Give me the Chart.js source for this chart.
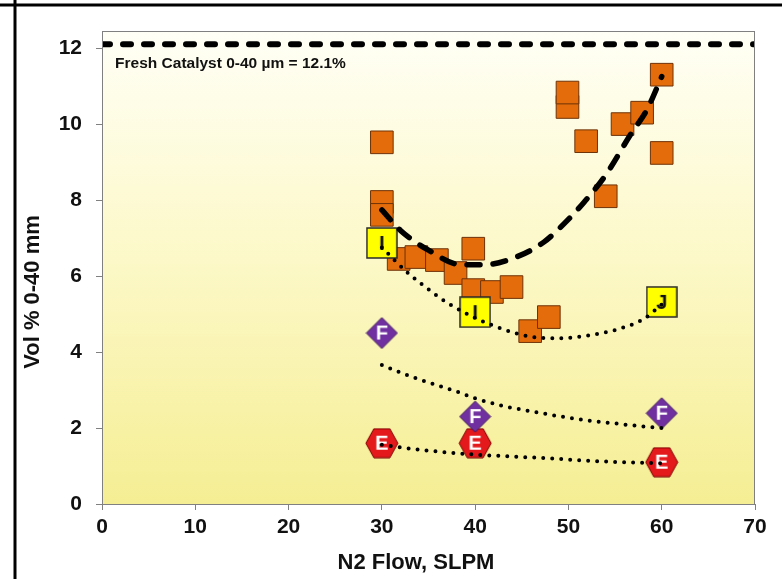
<!DOCTYPE html>
<html><head><meta charset="utf-8">
<script src="https://cdn.jsdelivr.net/npm/chart.js@4.4.0/dist/chart.umd.min.js"></script>
<style>html,body{margin:0;padding:0;background:#fff;}#wrap{width:782px;height:579px;position:relative;}</style>
</head><body><div id="wrap"><canvas id="c" width="782" height="579"></canvas></div>
<script>
// ---- data ----
const xTickValues = [0, 10, 20, 30, 40, 50, 60, 70];
const yTickValues = [0, 2, 4, 6, 8, 10, 12];

const orangeX = [30, 30, 30, 31.8, 33.7, 35.9, 37.9, 39.8, 39.8, 41.8, 43.9, 45.9, 47.9, 49.9, 49.9, 51.9, 54.0, 55.8, 57.9, 60, 60];
const orangeY = [9.52, 7.95, 7.61, 6.45, 6.50, 6.42, 6.08, 6.72, 5.63, 5.58, 5.71, 4.55, 4.92, 10.45, 10.83, 9.55, 8.10, 10.0, 10.3, 11.3, 9.24];

const yellowX = [30, 40, 60];
const yellowY = [6.87, 5.05, 5.32];
const yellowLabels = ['I', 'I', 'J'];

const purpleX = [30, 40, 60];
const purpleY = [4.5, 2.3, 2.39];
const purpleLabels = ['F', 'F', 'F'];

const redX = [30, 40, 60];
const redY = [1.6, 1.6, 1.1];
const redLabels = ['E', 'E', 'E'];

const freshX = [0, 70];
const freshY = [12.1, 12.1];
const freshText = 'Fresh Catalyst 0-40 \u00b5m = 12.1%';

const orangeFitX = [30, 32, 35, 38.5, 41, 44.4, 47.4, 49.7, 51.7, 54, 56.7, 58.4, 60];
const orangeFitY = [7.74, 7.2, 6.68, 6.3, 6.3, 6.5, 6.9, 7.42, 7.95, 8.66, 9.74, 10.37, 11.25];

const yellowFitX = [30, 32.8, 35, 37, 40, 43, 46, 49, 52, 55, 58, 60];
const yellowFitY = [6.75, 6.08, 5.65, 5.3, 4.9, 4.6, 4.4, 4.36, 4.43, 4.58, 4.86, 5.25];

const purpleFitX = [30, 32, 34, 36, 38, 40, 43, 46, 49, 52, 55, 58, 60];
const purpleFitY = [3.66, 3.46, 3.28, 3.12, 2.96, 2.78, 2.58, 2.44, 2.31, 2.2, 2.12, 2.04, 2.0];

const redFitX = [30, 33, 36, 40, 44, 48, 52, 56, 60];
const redFitY = [1.56, 1.46, 1.38, 1.3, 1.25, 1.2, 1.14, 1.1, 1.07];

const xTitle = 'N2 Flow, SLPM';
const yTitle = 'Vol % 0-40 mm';

// ---- helpers ----
const FONT = "'Liberation Sans', Arial, sans-serif";
const pts = (xs, ys) => xs.map((x, i) => ({x: x, y: ys[i]}));

function markerCanvas(kind, letter) {
  const c = document.createElement('canvas');
  let w = 33, h = 33;
  if (kind === 'square') { w = 32; h = 32; }
  if (kind === 'hex') { w = 34; h = 31; }
  c.width = w; c.height = h;
  const g = c.getContext('2d');
  g.beginPath();
  if (kind === 'square') {
    g.rect(1, 1, w - 2, h - 2);
    g.fillStyle = '#ffff00'; g.strokeStyle = '#2a2a2a'; g.lineWidth = 1.5;
  } else if (kind === 'diamond') {
    g.moveTo(w / 2, 1); g.lineTo(w - 1, h / 2); g.lineTo(w / 2, h - 1); g.lineTo(1, h / 2); g.closePath();
    g.fillStyle = '#7030a0'; g.strokeStyle = '#3f1a5e'; g.lineWidth = 1;
  } else {
    g.moveTo(1, h / 2); g.lineTo(9, 1); g.lineTo(w - 9, 1); g.lineTo(w - 1, h / 2); g.lineTo(w - 9, h - 1); g.lineTo(9, h - 1); g.closePath();
    g.fillStyle = '#e3191c'; g.strokeStyle = '#7a0000'; g.lineWidth = 1;
  }
  g.fill(); g.stroke();
  g.fillStyle = kind === 'square' ? '#111' : '#fff';
  g.font = 'bold 20px ' + FONT;
  g.textAlign = 'center'; g.textBaseline = 'middle';
  g.fillText(letter, w / 2, h / 2 + 1);
  return c;
}

const bgPlugin = {
  id: 'bg',
  beforeDraw(chart) {
    const {ctx, chartArea: a} = chart;
    ctx.save();
    ctx.fillStyle = '#fff';
    ctx.fillRect(0, 0, chart.width, chart.height);
    const gr = ctx.createLinearGradient(0, a.top, 0, a.bottom);
    gr.addColorStop(0, '#fffff6');
    gr.addColorStop(0.5, '#fcf8c6');
    gr.addColorStop(1, '#f5ee94');
    ctx.fillStyle = gr;
    ctx.fillRect(a.left, a.top, a.right - a.left, a.bottom - a.top);
    ctx.restore();
  },
  afterDraw(chart) {
    const {ctx, chartArea: a, scales} = chart;
    ctx.save();
    ctx.strokeStyle = '#808080'; ctx.lineWidth = 1;
    ctx.strokeRect(a.left + 0.5, a.top + 0.5, a.right - a.left - 1, a.bottom - a.top);
    // annotation text
    ctx.fillStyle = '#111';
    ctx.font = 'bold 15.5px ' + FONT;
    ctx.textAlign = 'left'; ctx.textBaseline = 'alphabetic';
    ctx.fillText(freshText, scales.x.getPixelForValue(1.4), scales.y.getPixelForValue(freshY[0]) + 24);
    // axis titles
    ctx.font = 'bold 22px ' + FONT;
    ctx.textAlign = 'center'; ctx.textBaseline = 'middle';
    ctx.fillText(xTitle, 416, 563);
    ctx.save();
    ctx.translate(33, 292);
    ctx.rotate(-Math.PI / 2);
    ctx.fillText(yTitle, 0, 0);
    ctx.restore();
    // slide frame lines
    ctx.strokeStyle = '#000'; ctx.lineWidth = 3;
    ctx.beginPath(); ctx.moveTo(0, 5); ctx.lineTo(chart.width, 5); ctx.stroke();
    ctx.beginPath(); ctx.moveTo(15, 0); ctx.lineTo(15, chart.height); ctx.stroke();
    ctx.restore();
  }
};

const tickFont = {family: FONT, weight: 'bold', size: 21};

new Chart(document.getElementById('c'), {
  type: 'scatter',
  data: {
    datasets: [
      {label: 'fresh', data: pts(freshX, freshY), showLine: true, pointRadius: 0, borderColor: '#000', borderWidth: 6, borderDash: [8, 13], borderCapStyle: 'round', order: 0},
      {label: 'orangeFit', data: pts(orangeFitX, orangeFitY), showLine: true, pointRadius: 0, borderColor: '#000', borderWidth: 5.5, borderDash: [13, 13], borderCapStyle: 'round', cubicInterpolationMode: 'monotone', order: 0},
      {label: 'yellowFit', data: pts(yellowFitX, yellowFitY), showLine: true, pointRadius: 0, borderColor: '#000', borderWidth: 4, borderDash: [0, 9], borderCapStyle: 'round', cubicInterpolationMode: 'monotone', order: 0},
      {label: 'purpleFit', data: pts(purpleFitX, purpleFitY), showLine: true, pointRadius: 0, borderColor: '#000', borderWidth: 4, borderDash: [0, 9], borderCapStyle: 'round', cubicInterpolationMode: 'monotone', order: 0},
      {label: 'redFit', data: pts(redFitX, redFitY), showLine: true, pointRadius: 0, borderColor: '#000', borderWidth: 4, borderDash: [0, 9], borderCapStyle: 'round', cubicInterpolationMode: 'monotone', order: 0},
      {label: 'F', data: pts(purpleX, purpleY), pointStyle: purpleLabels.map(l => markerCanvas('diamond', l)), order: 1},
      {label: 'E', data: pts(redX, redY), pointStyle: redLabels.map(l => markerCanvas('hex', l)), order: 2},
      {label: 'I', data: pts(yellowX, yellowY), pointStyle: yellowLabels.map(l => markerCanvas('square', l)), order: 3},
      {label: 'orange', data: pts(orangeX, orangeY), pointStyle: 'rect', pointRadius: 16, backgroundColor: '#e46c0a', borderColor: '#6e3208', borderWidth: 1, order: 4}
    ]
  },
  options: {
    responsive: false,
    animation: false,
    devicePixelRatio: 1,
    layout: {padding: {left: 18, right: 27, top: 31, bottom: 0}},
    plugins: {legend: {display: false}, tooltip: {enabled: false}},
    scales: {
      x: {
        type: 'linear', min: 0, max: 70,
        afterBuildTicks(s) { s.ticks = xTickValues.map(v => ({value: v})); },
        afterFit(s) { s.height = 75; },
        grid: {drawOnChartArea: false, drawTicks: true, tickLength: 6, color: '#808080'},
        border: {display: true, color: '#808080'},
        ticks: {font: tickFont, color: '#111', padding: 5, maxRotation: 0}
      },
      y: {
        type: 'linear', min: 0, max: 12.45,
        afterBuildTicks(s) { s.ticks = yTickValues.map(v => ({value: v})); },
        afterFit(s) { s.width = 84; },
        grid: {drawOnChartArea: false, drawTicks: true, tickLength: 6, color: '#808080'},
        border: {display: true, color: '#808080'},
        ticks: {font: tickFont, color: '#111', padding: 14}
      }
    }
  },
  plugins: [bgPlugin]
});
</script>
</body></html>
